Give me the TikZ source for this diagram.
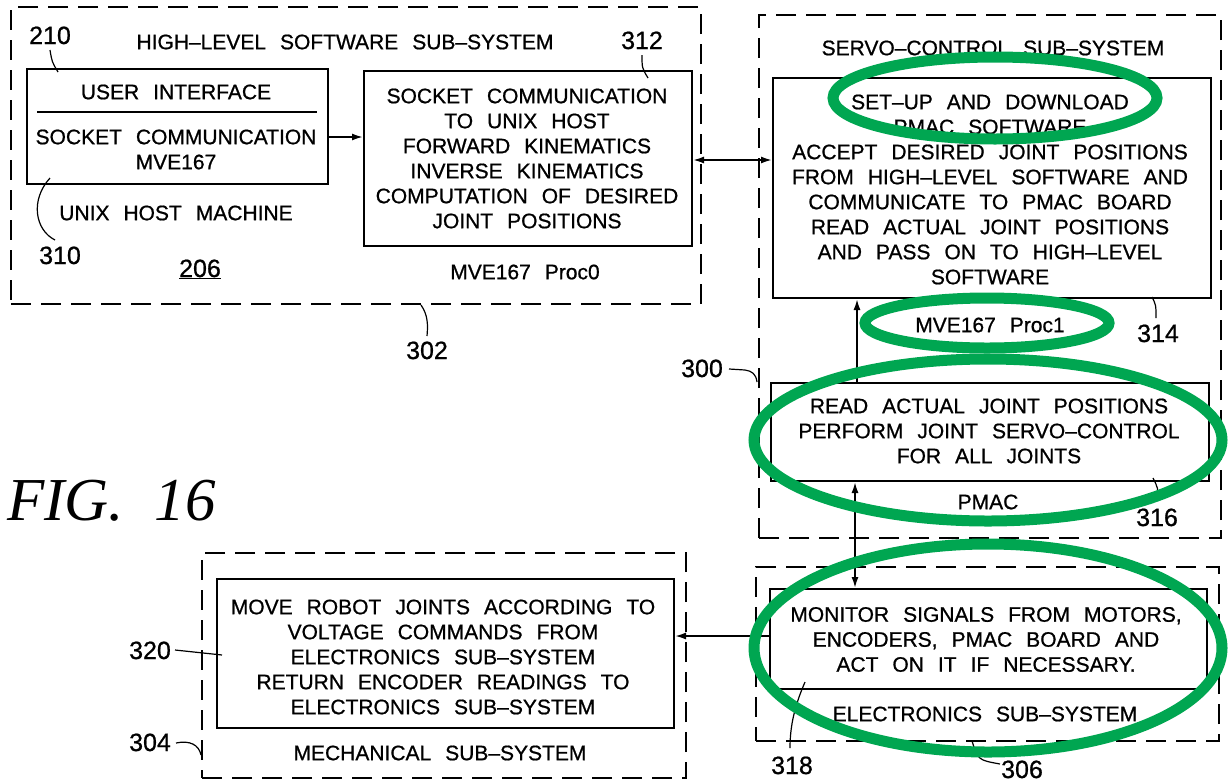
\documentclass[tikz,border=0pt]{standalone}
\usepackage{fontspec}
\setmainfont{Liberation Sans}[WordSpace=2.4, FakeBold=0.8]
\newfontfamily\figfont{Liberation Serif}
\usetikzlibrary{arrows.meta}
\definecolor{ringgreen}{RGB}{0,166,81}
\tikzset{
 dbox/.style={draw, line width=2.4pt, dash pattern=on 20pt off 10pt, inner sep=0pt, anchor=north west},
 sbox/.style={draw, line width=2pt, inner sep=0pt, anchor=north west},
 txt/.style={font=\fontsize{21}{25}\selectfont, align=center, inner sep=0pt},
 num/.style={font=\fontsize{25}{30}\selectfont, inner sep=0pt, anchor=base},
 lead/.style={line width=1.2pt},
 arr/.style={line width=1.8pt, -{Latex[length=11pt,width=7pt]}},
 darr/.style={line width=1.8pt, {Latex[length=11pt,width=7pt]}-{Latex[length=11pt,width=7pt]}},
 ring/.style={draw=ringgreen, line width=11pt},
}
\begin{document}
\begin{tikzpicture}[x=1pt,y=-1pt]
\useasboundingbox (0,0) rectangle (1230,782);
% outer dashed sub-systems
\node[dbox, minimum width=690pt, minimum height=297pt] (hl) at (10,6) {};
\node[dbox, minimum width=462pt, minimum height=523pt] (servo) at (758,14) {};
\node[dbox, minimum width=463pt, minimum height=174pt] (elec) at (755,566) {};
\node[dbox, minimum width=484pt, minimum height=225pt] (mech) at (201,552) {};
% inner boxes
\node[sbox, minimum width=301pt, minimum height=115pt] (b310) at (26,68) {};
\node[sbox, minimum width=328pt, minimum height=175pt] (b312) at (363,70) {};
\node[sbox, minimum width=438pt, minimum height=220pt] (b314) at (772,77) {};
\node[sbox, minimum width=438pt, minimum height=98pt] (b316) at (770,382) {};
\node[sbox, minimum width=437pt, minimum height=100pt] (b318) at (769,588) {};
\node[sbox, minimum width=457pt, minimum height=149pt] (b320) at (216,578) {};
\draw[line width=1.8pt] (37,112) -- (317,112);
% texts
\node[txt] (tui) at (176,92) {USER INTERFACE};
\node[txt] (tsock) at (176,149.5) {SOCKET COMMUNICATION\\MVE167};
\node[txt] (t312) at (527,158.5) {SOCKET COMMUNICATION\\TO UNIX HOST\\FORWARD KINEMATICS\\INVERSE KINEMATICS\\COMPUTATION OF DESIRED\\JOINT POSITIONS};
\node[txt] (t314) at (990,189.5) {SET--UP AND DOWNLOAD\\PMAC SOFTWARE\\ACCEPT DESIRED JOINT POSITIONS\\FROM HIGH--LEVEL SOFTWARE AND\\COMMUNICATE TO PMAC BOARD\\READ ACTUAL JOINT POSITIONS\\AND PASS ON TO HIGH--LEVEL\\SOFTWARE};
\node[txt] (t316) at (989,431) {READ ACTUAL JOINT POSITIONS\\PERFORM JOINT SERVO--CONTROL\\FOR ALL JOINTS};
\node[txt] (t318) at (986,639.5) {MONITOR SIGNALS FROM MOTORS,\\ENCODERS, PMAC BOARD AND\\ACT ON IT IF NECESSARY.};
\node[txt] (t320) at (443,657) {MOVE ROBOT JOINTS ACCORDING TO\\VOLTAGE COMMANDS FROM\\ELECTRONICS SUB--SYSTEM\\RETURN ENCODER READINGS TO\\ELECTRONICS SUB--SYSTEM};
\node[txt] (thl) at (345,42) {HIGH--LEVEL SOFTWARE SUB--SYSTEM};
\node[txt] (tunix) at (176,213) {UNIX HOST MACHINE};
\node[txt] (tp0) at (525,272) {MVE167 Proc0};
\node[txt] (tsc) at (993,48) {SERVO--CONTROL SUB--SYSTEM};
\node[txt] (tp1) at (990,325) {MVE167 Proc1};
\node[txt] (tpmac) at (988,502) {PMAC};
\node[txt] (tel) at (985,714) {ELECTRONICS SUB--SYSTEM};
\node[txt] (tmech) at (440,753) {MECHANICAL SUB--SYSTEM};
\node[font=\figfont\itshape\fontsize{61}{64}\selectfont, inner sep=0pt, anchor=base west] (fig) at (7,520) {FIG.\ \ 16};
% reference numerals
\node[num] (n206) at (200,277) {\underline{206}};
\node[num] (n210) at (50,44) {210};
\node[num] (n310) at (60,264) {310};
\node[num] (n312) at (642,49) {312};
\node[num] (n302) at (427,359) {302};
\node[num] (n300) at (702,377) {300};
\node[num] (n314) at (1158,342) {314};
\node[num] (n316) at (1157,526) {316};
\node[num] (n318) at (792,774) {318};
\node[num] (n306) at (1022,778) {306};
\node[num] (n320) at (150,659) {320};
\node[num] (n304) at (150,751) {304};
% leaders
\draw[lead] (50,50) .. controls (52,62) .. (58,72);
\draw[lead] (50,178) .. controls (30,200) and (35,230) .. (55,240);
\draw[lead] (642,55) .. controls (642,68) .. (648,78);
\draw[lead] (421,305) .. controls (428,315) and (428,325) .. (427,336);
\draw[lead] (729,369) -- (745,370) .. controls (752,371) and (756,374) .. (757,382);
\draw[lead] (1152,297) .. controls (1156,305) .. (1156,318);
\draw[lead] (1153,478) .. controls (1158,488) .. (1158,500);
\draw[lead] (805,682) .. controls (795,705) and (790,725) .. (790,748);
\draw[lead] (972,741) .. controls (978,760) .. (1000,764);
\draw[lead] (175,650) -- (222,655);
\draw[lead] (176,743) .. controls (190,740) and (199,745) .. (201,755);
% connectors
\draw[arr] (b310.east |- 0,137) -- (b312.west |- 0,137);
\draw[darr] (b312.east |- 0,160) -- (b314.west |- 0,160);
\draw[arr] (b316.north -| 857,0) -- (b314.south -| 857,0);
\draw[darr] (b316.south -| 855,0) -- (b318.north -| 855,0);
\draw[arr] (b318.west |- 0,636) -- (b320.east |- 0,636);
% green annotation rings
\draw[ring] (995,98) ellipse [x radius=162pt, y radius=41pt];
\draw[ring] (987,323) ellipse [x radius=122pt, y radius=25pt];
\draw[ring] (988,440) ellipse [x radius=234pt, y radius=81pt];
\draw[ring] (988,648) ellipse [x radius=234pt, y radius=104pt];
\end{tikzpicture}
\end{document}
